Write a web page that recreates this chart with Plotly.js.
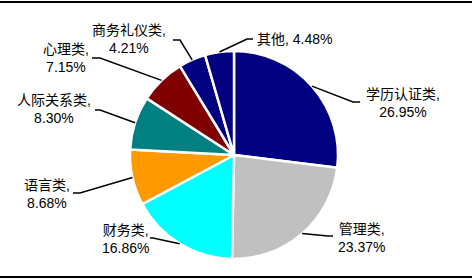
<!DOCTYPE html>
<html>
<head>
<meta charset="utf-8">
<script src="https://cdn.plot.ly/plotly-3.0.1.min.js"></script>
<style>html,body{margin:0;padding:0;background:#fff;}#chart{width:475px;height:280px;}</style>
</head>
<body>
<div id="chart"></div>
<script>
// ---- data ----
const categories = ["学历认证类", "管理类", "财务类", "语言类", "人际关系类", "心理类", "商务礼仪类", "其他"];
const shares = [26.95, 23.37, 16.86, 8.68, 8.30, 7.15, 4.21, 4.48];
const sliceColors = ["#000080", "#C0C0C0", "#00FFFF", "#FF9900", "#008080", "#800000", "#000080", "#000080"];

// ---- layout geometry (pixels) ----
const W = 475, H = 280;
const cx = 234, cy = 155, R = 104;
// label layout: elbow point, horizontal end x, text anchor, anchor side, single/multi line
const labelLayout = [
  {elbow: [353, 102], endX: 360, text: [403, 103], anchor: "center", oneLine: false},
  {elbow: [328, 236], endX: 333, text: [361, 238], anchor: "center", oneLine: false},
  {elbow: [153, 238], endX: 150, text: [125, 239], anchor: "center", oneLine: false},
  {elbow: [80, 193], endX: 73, text: [47, 194], anchor: "center", oneLine: false},
  {elbow: [100, 110], endX: 95, text: [54, 109], anchor: "center", oneLine: false},
  {elbow: [100, 58], endX: 92, text: [66, 58], anchor: "center", oneLine: false},
  {elbow: [180, 40], endX: 173, text: [129, 39], anchor: "center", oneLine: false},
  {elbow: [247, 39], endX: 253, text: [255, 39], anchor: "left", oneLine: true}
];

const px = x => x / W;
const py = y => 1 - y / H;

const total = shares.reduce((a, b) => a + b, 0);
let cum = 0;
const shapes = [];
const annotations = [];
shares.forEach((v, i) => {
  const mid = (cum + v / 2) / total * 2 * Math.PI;
  cum += v;
  const ex = cx + R * Math.sin(mid), ey = cy - R * Math.cos(mid);
  const L = labelLayout[i];
  shapes.push({
    type: "path", xref: "paper", yref: "paper",
    path: `M ${px(ex)} ${py(ey)} L ${px(L.elbow[0])} ${py(L.elbow[1])} L ${px(L.endX)} ${py(L.elbow[1])}`,
    line: {color: "#000", width: 1.5}
  });
  const txt = L.oneLine ? `${categories[i]}, ${v.toFixed(2)}%` : `${categories[i]},<br>${v.toFixed(2)}%`;
  annotations.push({
    xref: "paper", yref: "paper", x: px(L.text[0]), y: py(L.text[1]),
    xanchor: L.anchor, yanchor: "middle", showarrow: false, align: "center",
    text: txt, font: {family: "Liberation Sans, Arial, Noto Sans CJK SC", size: 14, color: "#000"}
  });
});

// frame lines (top and bottom)
shapes.push({type: "line", xref: "paper", yref: "paper", x0: 0, x1: px(472), y0: py(2), y1: py(2), line: {color: "#000", width: 2}});
shapes.push({type: "line", xref: "paper", yref: "paper", x0: 0, x1: px(472), y0: py(277), y1: py(277), line: {color: "#000", width: 2}});

const trace = {
  type: "pie",
  labels: categories,
  values: shares,
  sort: false,
  direction: "clockwise",
  rotation: 0,
  textinfo: "none",
  hoverinfo: "label+percent",
  marker: {colors: sliceColors, line: {color: "#fff", width: 2.5}},
  domain: {x: [px(cx - R), px(cx + R)], y: [py(cy + R), py(cy - R)]}
};

Plotly.newPlot("chart", [trace], {
  width: W, height: H,
  margin: {l: 0, r: 0, t: 0, b: 0},
  showlegend: false,
  paper_bgcolor: "#fff",
  shapes: shapes,
  annotations: annotations
}, {staticPlot: true, displayModeBar: false});
</script>
</body>
</html>
